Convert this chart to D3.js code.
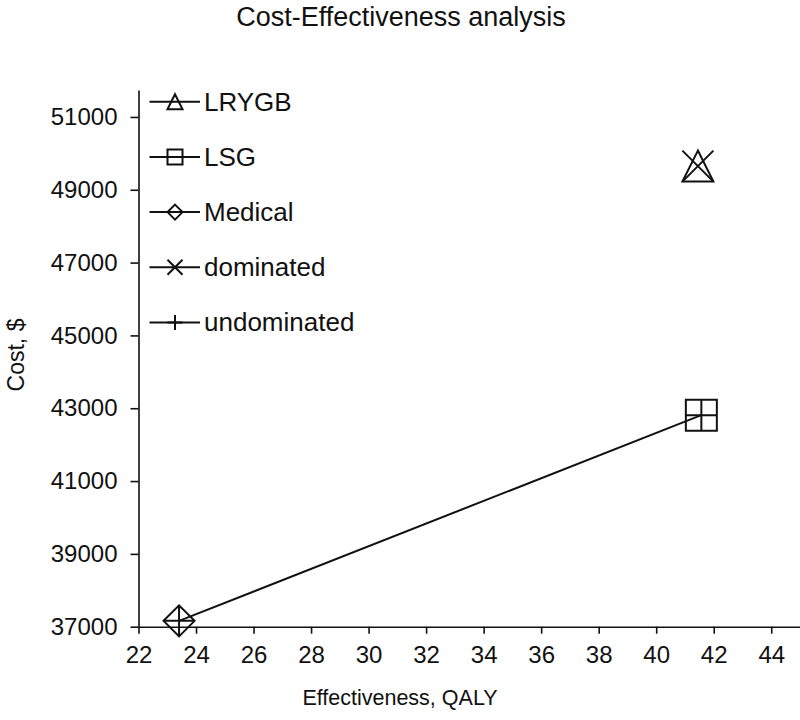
<!DOCTYPE html>
<html>
<head>
<meta charset="utf-8">
<script src="https://cdn.jsdelivr.net/npm/d3@7/dist/d3.min.js"></script>
<style>
  html, body { margin: 0; padding: 0; background: #fff; }
  svg { display: block; font-family: "Liberation Sans", Arial, sans-serif; }
</style>
</head>
<body>
<svg id="chart" width="800" height="720"></svg>
<script>
// ---- data ----
const strategies = ["LRYGB", "LSG", "Medical"];
const effectiveness = [41.45, 41.57, 23.41];   // QALY
const costs = [49650, 42810, 37160];          // $
const dominance = ["dominated", "undominated", "undominated"];
const legendLabels = ["LRYGB", "LSG", "Medical", "dominated", "undominated"];
const xTicks = [22, 24, 26, 28, 30, 32, 34, 36, 38, 40, 42, 44];
const yTicks = [37000, 39000, 41000, 43000, 45000, 47000, 49000, 51000];

const svg = d3.select("#chart");
const x = d3.scaleLinear().domain([22, 45]).range([138.5, 800]);
const y = d3.scaleLinear().domain([37000, 51740]).range([626.7, 90]);

const ink = "#111";

// axes
const xAxis = svg.append("g").attr("transform", `translate(0,${y(37000)})`)
  .call(d3.axisBottom(x).tickValues(xTicks).tickFormat(d3.format("d"))
    .tickSizeInner(7).tickSizeOuter(0).tickPadding(12));
const yAxis = svg.append("g").attr("transform", `translate(${x(22)},0)`)
  .call(d3.axisLeft(y).tickValues(yTicks).tickFormat(d3.format("d"))
    .tickSizeInner(8).tickSizeOuter(0).tickPadding(13));
[xAxis, yAxis].forEach(g => {
  g.selectAll("path, line").attr("stroke", ink).attr("stroke-width", 1.6);
  g.selectAll("text").attr("fill", ink).style("font-size", "24px")
    .style("font-family", "'Liberation Sans', Arial, sans-serif");
});

// marker drawing
function marker(g, type, cx, cy, r) {
  const p = d3.path();
  if (type === "LRYGB") {
    p.moveTo(cx, cy - r); p.lineTo(cx - r, cy + r); p.lineTo(cx + r, cy + r); p.closePath();
  } else if (type === "LSG") {
    p.rect(cx - r, cy - r, 2 * r, 2 * r);
  } else if (type === "Medical") {
    p.moveTo(cx, cy - r); p.lineTo(cx + r, cy); p.lineTo(cx, cy + r); p.lineTo(cx - r, cy); p.closePath();
  } else if (type === "dominated") {
    p.moveTo(cx - r, cy - r); p.lineTo(cx + r, cy + r);
    p.moveTo(cx + r, cy - r); p.lineTo(cx - r, cy + r);
  } else if (type === "undominated") {
    p.moveTo(cx - r, cy); p.lineTo(cx + r, cy);
    p.moveTo(cx, cy - r); p.lineTo(cx, cy + r);
  }
  g.append("path").attr("d", p.toString())
    .attr("fill", "none").attr("stroke", ink).attr("stroke-width", 2);
}

// frontier line between undominated strategies
const frontier = strategies.map((s, i) => ({ s, e: effectiveness[i], c: costs[i], d: dominance[i] }))
  .filter(d => d.d === "undominated").sort((a, b) => a.e - b.e);
svg.append("path")
  .attr("d", d3.line().x(d => x(d.e)).y(d => y(d.c))(frontier))
  .attr("fill", "none").attr("stroke", ink).attr("stroke-width", 2);

// points
const pts = svg.append("g");
strategies.forEach((s, i) => {
  marker(pts, s, x(effectiveness[i]), y(costs[i]), 15.5);
  marker(pts, dominance[i], x(effectiveness[i]), y(costs[i]), 15.5);
});

// legend
const leg = svg.append("g");
legendLabels.forEach((lab, i) => {
  const ly = 101.7 + i * 55.2;
  leg.append("line").attr("x1", 149.5).attr("x2", 200).attr("y1", ly).attr("y2", ly)
    .attr("stroke", ink).attr("stroke-width", 2);
  marker(leg, lab, 175, ly, 7.5);
  leg.append("text").attr("x", 204).attr("y", ly + 8.8).text(lab)
    .attr("fill", ink).style("font-size", "26px");
});

// title and axis labels
svg.append("text").attr("x", 401).attr("y", 26).attr("text-anchor", "middle")
  .attr("fill", ink).style("font-size", "27px").text("Cost-Effectiveness analysis");
svg.append("text").attr("x", 400).attr("y", 705).attr("text-anchor", "middle")
  .attr("fill", ink).style("font-size", "21.5px").text("Effectiveness, QALY");
svg.append("text").attr("transform", "translate(24,355) rotate(-90)").attr("text-anchor", "middle")
  .attr("fill", ink).style("font-size", "23px").text("Cost, $");
</script>
</body>
</html>
